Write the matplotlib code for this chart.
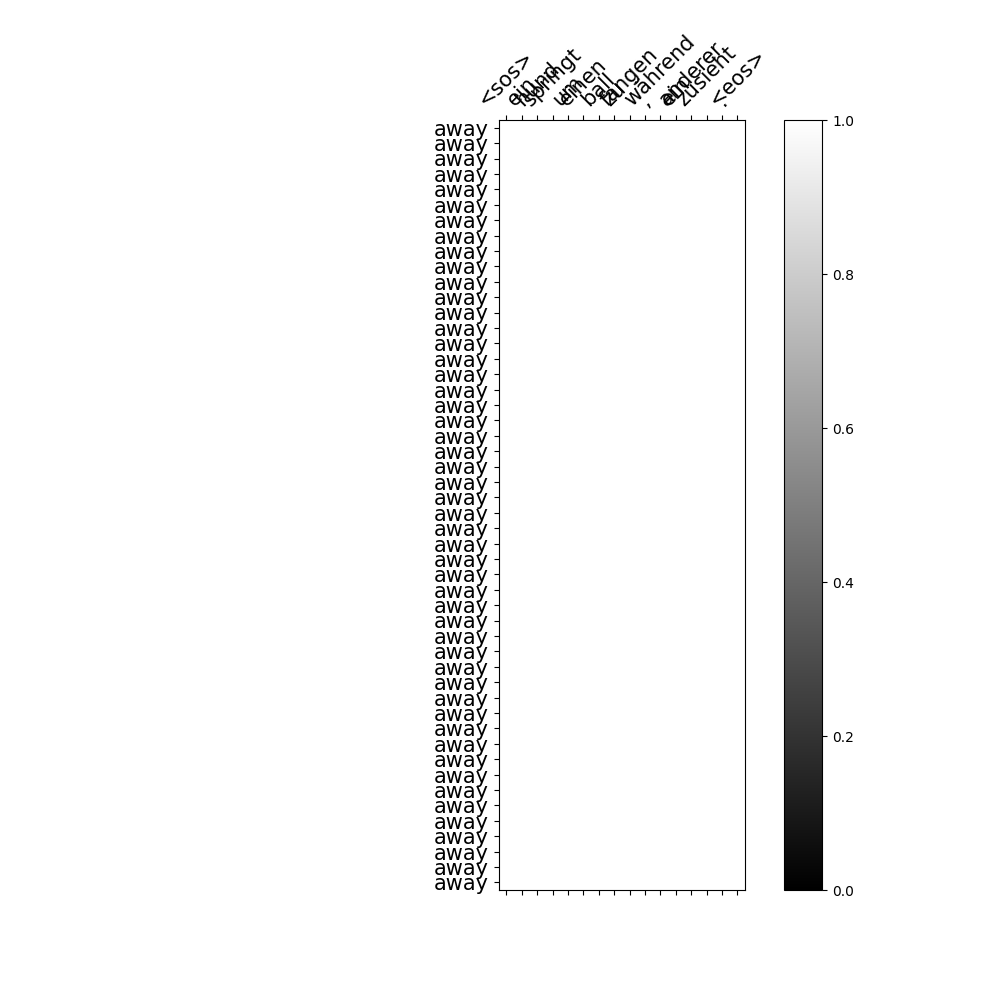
import numpy as np
import matplotlib
matplotlib.use('Agg')
import matplotlib.pyplot as plt
import matplotlib.ticker as ticker

# source sentence (columns) and translation (rows)
src_tokens = ['<sos>', 'ein', 'hund', 'springt', 'um', 'einen', 'ball', 'zu',
              'fangen', ',', 'während', 'ein', 'anderer', 'zusieht', '.', '<eos>']
trg_tokens = ['away'] * 50

# attention weights: every cell shows as white
attention = np.ones((len(trg_tokens), len(src_tokens)))

fig = plt.figure(figsize=(10, 10), dpi=100)
ax = fig.add_subplot(111)

cax = ax.matshow(attention, cmap='gray', vmin=0, vmax=1)
fig.colorbar(cax)

ax.tick_params(labelsize=15)
ax.set_xticks(range(len(src_tokens)))
ax.set_xticklabels(src_tokens, rotation=45)
ax.set_yticks(range(len(trg_tokens)))
ax.set_yticklabels(trg_tokens)

ax.xaxis.set_major_locator(ticker.MultipleLocator(1))
ax.yaxis.set_major_locator(ticker.MultipleLocator(1))

plt.savefig('out.png')
